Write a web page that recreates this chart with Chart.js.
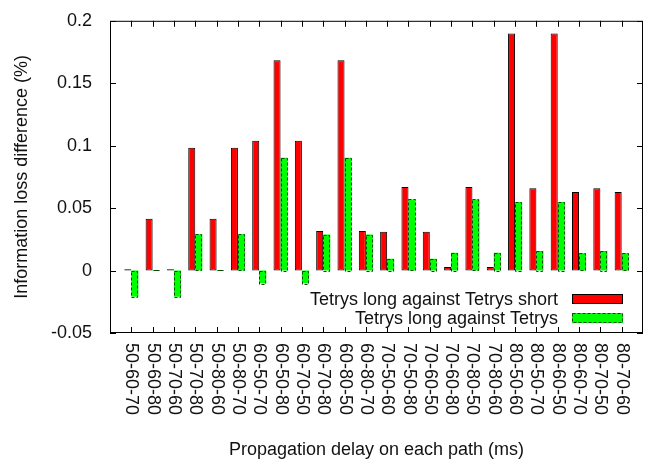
<!DOCTYPE html>
<html>
<head>
<meta charset="utf-8">
<script src="https://cdn.jsdelivr.net/npm/chart.js@4"></script>
<style>
  html, body { margin: 0; padding: 0; background: #fff; }
  #wrap { width: 647px; height: 461px; }
</style>
</head>
<body>
<div id="wrap"><canvas id="chart" width="647" height="461"></canvas></div>
<script>
// data
const categories = ['50-60-70', '50-60-80', '50-70-60', '50-70-80', '50-80-60', '50-80-70',
  '60-50-70', '60-50-80', '60-70-50', '60-70-80', '60-80-50', '60-80-70',
  '70-50-60', '70-50-80', '70-60-50', '70-60-80', '70-80-50', '70-80-60',
  '80-50-60', '80-50-70', '80-60-50', '80-60-70', '80-70-50', '80-70-60'];
const againstShort = [0.001, 0.0414, 0.001, 0.0983, 0.0414, 0.0983, 0.104, 0.1685, 0.104, 0.0317, 0.1685, 0.0317,
  0.031, 0.067, 0.031, 0.0028, 0.067, 0.0028, 0.1898, 0.066, 0.1898, 0.0629, 0.066, 0.0629];
const againstTetrys = [-0.021, 0.0005, -0.021, 0.029, 0.0005, 0.029, -0.0102, 0.0904, -0.0102, 0.0288, 0.0904, 0.0288,
  0.0094, 0.057, 0.0094, 0.0142, 0.057, 0.0142, 0.055, 0.0157, 0.055, 0.0138, 0.0157, 0.0138];
const seriesNames = ['Tetrys long against Tetrys short', 'Tetrys long against Tetrys'];
const yTicks = [-0.05, 0, 0.05, 0.1, 0.15, 0.2];
const yTickLabels = ['-0.05', '0', '0.05', '0.1', '0.15', '0.2'];

const FONT = '"Liberation Sans", Arial, sans-serif';
const TXT = '#111';

// gnuplot-like frame, inward ticks, dashed green outlines, rotated labels, legend
const gnuplotLook = {
  id: 'gnuplotLook',
  afterDatasetsDraw(chart) {
    const ctx = chart.ctx;
    const meta = chart.getDatasetMeta(1);
    ctx.save();
    ctx.strokeStyle = '#0a4a0a';
    ctx.lineWidth = 1;
    ctx.setLineDash([3, 2]);
    meta.data.forEach(bar => {
      const x0 = Math.round(bar.x - bar.width / 2) + 0.5;
      const x1 = Math.round(bar.x + bar.width / 2) - 0.5;
      const y0 = Math.min(bar.y, bar.base), y1 = Math.max(bar.y, bar.base);
      if (y1 - y0 < 1) {
        ctx.setLineDash([]);
        ctx.beginPath(); ctx.moveTo(x0, Math.round(y0) + 0.5); ctx.lineTo(x1, Math.round(y0) + 0.5); ctx.stroke();
        ctx.setLineDash([3, 2]);
        return;
      }
      ctx.strokeRect(x0, Math.round(y0) + 0.5, x1 - x0, Math.round(y1 - y0));
    });
    ctx.restore();
  },
  afterDraw(chart) {
    const { ctx, chartArea: a, scales } = chart;
    const xs = scales.x, ys = scales.y;
    ctx.save();
    ctx.strokeStyle = '#000';
    ctx.lineWidth = 1;
    ctx.strokeRect(a.left + 0.5, a.top + 0.5, a.right - a.left - 1, a.bottom - a.top - 1);
    ctx.beginPath();
    categories.forEach((c, i) => {
      const x = Math.round(xs.getPixelForValue(i)) + 0.5;
      ctx.moveTo(x, a.bottom); ctx.lineTo(x, a.bottom - 6);
      ctx.moveTo(x, a.top); ctx.lineTo(x, a.top + 6);
    });
    yTicks.forEach(v => {
      const y = Math.round(ys.getPixelForValue(v)) + 0.5;
      ctx.moveTo(a.left, y); ctx.lineTo(a.left + 6, y);
      ctx.moveTo(a.right, y); ctx.lineTo(a.right - 6, y);
    });
    ctx.stroke();

    // category labels, reading downward
    ctx.fillStyle = TXT;
    ctx.font = '18px ' + FONT;
    ctx.textAlign = 'left';
    ctx.textBaseline = 'middle';
    categories.forEach((c, i) => {
      ctx.save();
      ctx.translate(xs.getPixelForValue(i), a.bottom + 10);
      ctx.rotate(Math.PI / 2);
      ctx.fillText(c, 0, 0);
      ctx.restore();
    });

    // legend inside the plot, bottom right
    const boxL = 572, boxW = 51, boxH = 10;
    const rows = [299, 318];
    ctx.textAlign = 'right';
    rows.forEach((y, k) => {
      ctx.fillStyle = TXT;
      ctx.fillText(seriesNames[k], 558, y + 1);
      ctx.fillStyle = k === 0 ? '#ff0000' : '#00ff00';
      ctx.fillRect(boxL, y - boxH / 2, boxW, boxH);
      ctx.strokeStyle = k === 0 ? '#000' : '#0a4a0a';
      ctx.setLineDash(k === 0 ? [] : [3, 2]);
      ctx.strokeRect(boxL + 0.5, y - boxH / 2 + 0.5, boxW - 1, boxH - 1);
    });
    ctx.restore();
  }
};

new Chart(document.getElementById('chart'), {
  type: 'bar',
  data: {
    datasets: [
      {
        label: seriesNames[0],
        data: againstShort.map((v, i) => ({ x: i, y: v })),
        backgroundColor: '#ff0000',
        borderColor: '#000',
        borderWidth: 1,
        borderSkipped: false
      },
      {
        label: seriesNames[1],
        data: againstTetrys.map((v, i) => ({ x: i, y: v })),
        backgroundColor: '#00ff00',
        borderWidth: 0
      }
    ]
  },
  options: {
    responsive: false,
    animation: false,
    categoryPercentage: 0.66,
    barPercentage: 1,
    layout: { padding: { top: 15, right: 4, left: 0, bottom: 0 } },
    plugins: { legend: { display: false }, tooltip: { enabled: false } },
    scales: {
      x: {
        type: 'linear',
        min: -1,
        max: 24,
        offset: false,
        grid: { display: false },
        border: { display: false },
        ticks: { display: false },
        title: {
          display: true,
          text: 'Propagation delay on each path (ms)',
          color: TXT,
          font: { family: FONT, size: 18 },
          padding: { top: 0, bottom: 0 }
        },
        afterFit(scale) { scale.height = 128; }
      },
      y: {
        min: -0.05,
        max: 0.2,
        grid: { display: false },
        border: { display: false },
        afterBuildTicks(scale) { scale.ticks = yTicks.map(v => ({ value: v })); },
        ticks: {
          padding: 10,
          color: TXT,
          font: { family: FONT, size: 18 },
          callback: (v, i) => yTickLabels[i]
        },
        title: {
          display: true,
          text: 'Information loss difference (%)',
          color: TXT,
          font: { family: FONT, size: 18 },
          padding: { top: 11, bottom: 0 }
        },
        afterFit(scale) { scale.width = 110; }
      }
    }
  },
  plugins: [gnuplotLook]
});
</script>
</body>
</html>
